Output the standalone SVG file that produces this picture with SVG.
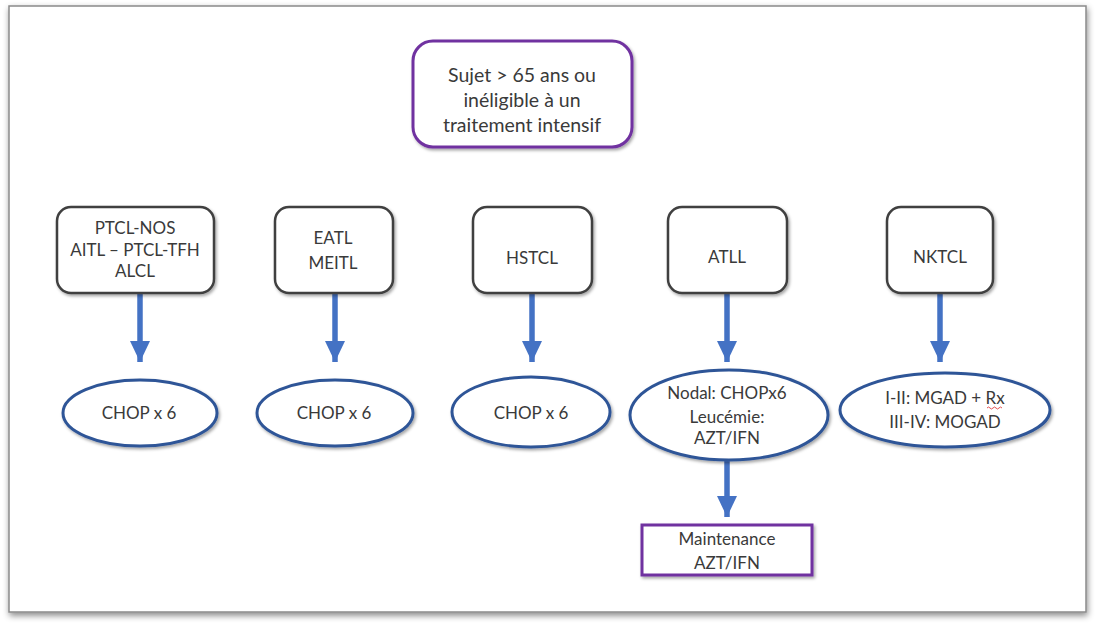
<svg xmlns="http://www.w3.org/2000/svg" width="1096" height="626" viewBox="0 0 1096 626">
  <defs>
    <filter id="sh" x="-20%" y="-20%" width="140%" height="140%">
      <feDropShadow dx="1.5" dy="2" stdDeviation="1.5" flood-color="#000" flood-opacity="0.35"/>
    </filter>
    <filter id="fsh" x="-5%" y="-5%" width="110%" height="110%">
      <feDropShadow dx="1" dy="3" stdDeviation="3" flood-color="#000" flood-opacity="0.45"/>
    </filter>
    <marker id="ah" markerUnits="userSpaceOnUse" markerWidth="22" markerHeight="20" refX="21" refY="10" orient="auto">
      <path d="M0,0 L21,10 L0,20 Z" fill="#4472C4"/>
    </marker>
  </defs>
  <style>
    text { font-family: Lato, "Liberation Sans", sans-serif; font-size: 17px; fill: #3a3a3a; text-anchor: middle; }
    .big { font-size: 19.5px; }
    .box { fill: #fff; stroke: #3f3f3f; stroke-width: 2.5; filter: url(#sh); }
    .ell { fill: #fff; stroke: #2F5597; stroke-width: 3; filter: url(#sh); }
    .pur { fill: #fff; stroke: #7030A0; stroke-width: 3; filter: url(#sh); }
    .arr { stroke: #4472C4; stroke-width: 5.5; fill: none; marker-end: url(#ah); }
  </style>
  <rect width="1096" height="626" fill="#fff"/>
  <rect x="9" y="6" width="1077" height="606" fill="#fff" stroke="#8a8a8a" stroke-width="1.5" filter="url(#fsh)"/>

  <g id="connectors">
    <line class="arr" x1="140" y1="293" x2="140" y2="362"/>
    <line class="arr" x1="335" y1="293" x2="335" y2="362"/>
    <line class="arr" x1="532" y1="293" x2="532" y2="362"/>
    <line class="arr" x1="727" y1="293" x2="727" y2="362"/>
    <line class="arr" x1="940" y1="293" x2="940" y2="362"/>
    <line class="arr" x1="727" y1="460" x2="727" y2="517"/>
  </g>

  <g id="root">
    <rect class="pur" x="413" y="41" width="219" height="106" rx="20"/>
    <text class="big" x="522" y="82">Sujet &gt; 65 ans ou</text>
    <text class="big" x="522" y="107">inéligible à un</text>
    <text class="big" x="522" y="132">traitement intensif</text>
  </g>

  <g id="n-ptcl">
    <rect class="box" x="57" y="207" width="157" height="86" rx="14"/>
    <text x="135" y="234">PTCL-NOS</text>
    <text x="135" y="256">AITL – PTCL-TFH</text>
    <text x="135" y="277">ALCL</text>
  </g>
  <g id="n-eatl">
    <rect class="box" x="275" y="207" width="118" height="86" rx="14"/>
    <text x="333" y="244">EATL</text>
    <text x="333" y="269">MEITL</text>
  </g>
  <g id="n-hstcl">
    <rect class="box" x="473" y="207" width="119" height="86" rx="14"/>
    <text x="532" y="264">HSTCL</text>
  </g>
  <g id="n-atll">
    <rect class="box" x="668" y="207" width="119" height="86" rx="14"/>
    <text x="727" y="263">ATLL</text>
  </g>
  <g id="n-nktcl">
    <rect class="box" x="887" y="207" width="106" height="86" rx="14"/>
    <text x="940" y="263">NKTCL</text>
  </g>

  <g id="e-1">
    <ellipse class="ell" cx="140" cy="413" rx="77" ry="33"/>
    <text x="139" y="419">CHOP x 6</text>
  </g>
  <g id="e-2">
    <ellipse class="ell" cx="335" cy="413" rx="78" ry="33"/>
    <text x="334" y="419">CHOP x 6</text>
  </g>
  <g id="e-3">
    <ellipse class="ell" cx="531" cy="412" rx="79" ry="35"/>
    <text x="531" y="419">CHOP x 6</text>
  </g>
  <g id="e-4">
    <ellipse class="ell" cx="729" cy="415" rx="99" ry="45"/>
    <text x="727" y="399">Nodal: CHOPx6</text>
    <text x="727" y="423">Leucémie:</text>
    <text x="727" y="444">AZT/IFN</text>
  </g>
  <g id="e-5">
    <ellipse class="ell" cx="945" cy="410" rx="105" ry="37"/>
    <text x="945" y="404">I-II: MGAD + Rx</text>
    <text x="945" y="428">III-IV: MOGAD</text>
    <path d="M987,408 q1.5,-2 3,0 t3,0 t3,0 t3,0 t3,0" fill="none" stroke="#e04040" stroke-width="0.9"/>
  </g>

  <g id="maint">
    <rect class="pur" x="642" y="525" width="170" height="50"/>
    <text x="727" y="545">Maintenance</text>
    <text x="727" y="569">AZT/IFN</text>
  </g>
</svg>
